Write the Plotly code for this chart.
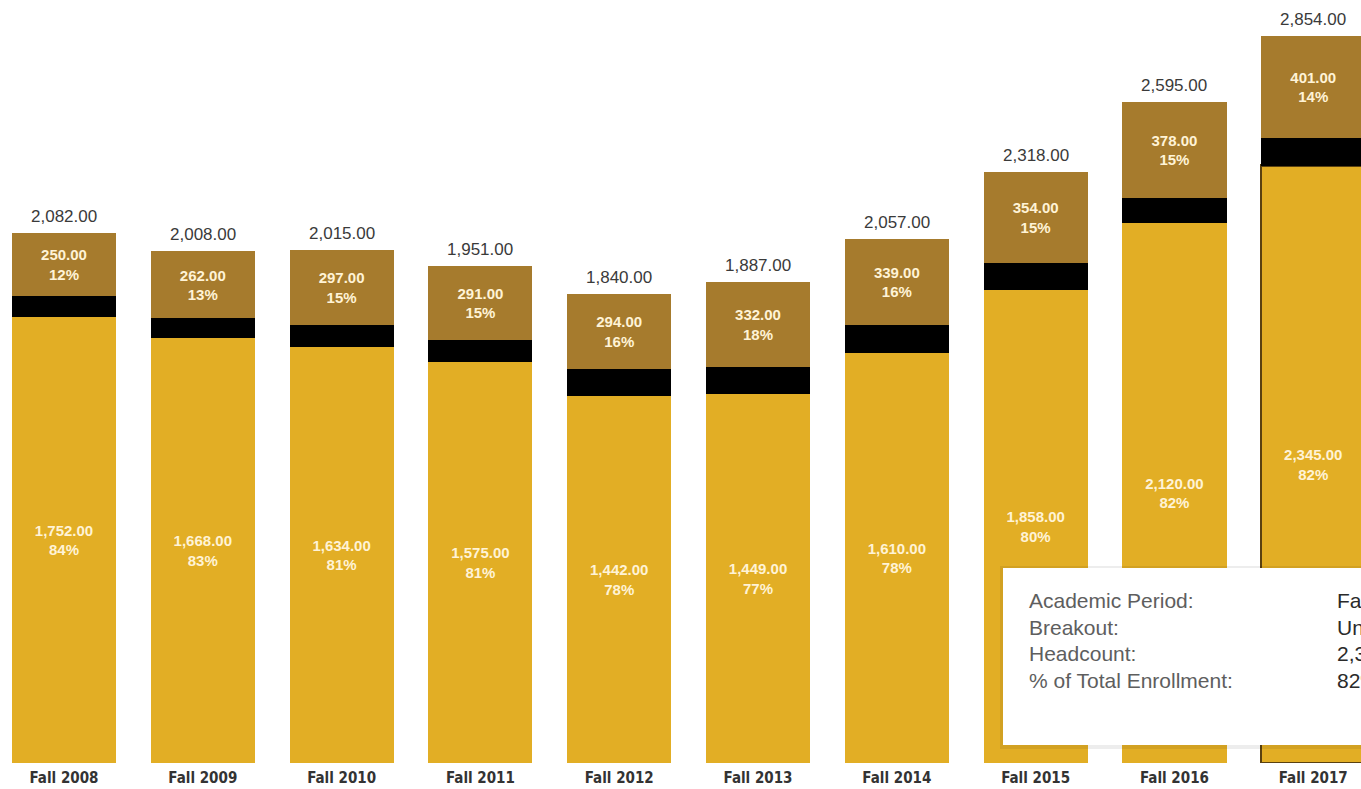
import plotly.graph_objects as go

# Fall headcount by breakout
terms = ["Fall 2008", "Fall 2009", "Fall 2010", "Fall 2011", "Fall 2012",
         "Fall 2013", "Fall 2014", "Fall 2015", "Fall 2016", "Fall 2017"]
totals = [2082, 2008, 2015, 1951, 1840, 1887, 2057, 2318, 2595, 2854]
undergrad = [1752, 1668, 1634, 1575, 1442, 1449, 1610, 1858, 2120, 2345]
graduate = [250, 262, 297, 291, 294, 332, 339, 354, 378, 401]
other = [t - u - g for t, u, g in zip(totals, undergrad, graduate)]

tip_labels = ["Academic Period:", "Breakout:", "Headcount:", "% of Total Enrollment:"]
tip_values = ["Fall 2017", "Undergraduate", "2,345.00", "82%"]

GOLD = "#E2AE25"
BROWN = "#A67B2D"
BLACK = "#000000"
LABEL = "#FFF3D6"

W, H = 1361, 789
BASE_PX = 763          # pixel row of the bar baseline
YMAX = 2995.0
X0, X1 = -0.461, 9.344


def seg_text(vals):
    return [f"<b>{v:,.2f}<br>{v / t * 100:.0f}%</b>" for v, t in zip(vals, totals)]


idx = list(range(len(terms)))
sel_width = [0] * (len(terms) - 1) + [2.5]

fig = go.Figure()
fig.add_bar(x=idx, y=undergrad, name="Undergraduate",
            marker=dict(color=GOLD, line=dict(color="#5A4110", width=sel_width)),
            text=seg_text(undergrad), textposition="inside",
            insidetextanchor="middle", textangle=0,
            textfont=dict(family="Liberation Sans, Arial", size=15, color=LABEL))
fig.add_bar(x=idx, y=other, name="Other",
            marker=dict(color=BLACK, line=dict(width=0)))
fig.add_bar(x=idx, y=graduate, name="Graduate",
            marker=dict(color=BROWN, line=dict(width=0)),
            text=seg_text(graduate), textposition="inside",
            insidetextanchor="middle", textangle=0,
            textfont=dict(family="Liberation Sans, Arial", size=15, color=LABEL))

annotations = []
for i, t in zip(idx, totals):
    annotations.append(dict(x=i, y=t, xref="x", yref="y", text=f"{t:,.2f}",
                            showarrow=False, yanchor="bottom", yshift=5,
                            font=dict(family="Liberation Sans, Arial", size=17,
                                      color="#3A3A3A")))


def px_x(p):
    return p / W


def px_y(p):
    return (BASE_PX - p) / BASE_PX


# hover card for the selected segment
shapes = [
    dict(type="rect", xref="paper", yref="paper",
         x0=px_x(1000), x1=px_x(1400), y0=px_y(749), y1=px_y(566),
         fillcolor="rgba(0,0,0,0.07)", line=dict(width=0), layer="above"),
    dict(type="rect", xref="paper", yref="paper",
         x0=px_x(1003), x1=px_x(1400), y0=px_y(745), y1=px_y(568),
         fillcolor="#FFFFFF", line=dict(width=0), layer="above"),
]
row_px = [600, 627, 653, 680]
for lab, val, ry in zip(tip_labels, tip_values, row_px):
    annotations.append(dict(x=px_x(1027), y=px_y(ry), xref="paper", yref="paper",
                            text=lab, showarrow=False, xanchor="left", yanchor="middle",
                            font=dict(family="Liberation Sans, Arial", size=21,
                                      color="#5E5E5E")))
    annotations.append(dict(x=px_x(1335), y=px_y(ry), xref="paper", yref="paper",
                            text=val, showarrow=False, xanchor="left", yanchor="middle",
                            font=dict(family="Liberation Sans, Arial", size=21,
                                      color="#2A2A2A")))

fig.update_layout(
    width=W, height=H,
    barmode="stack", bargap=0.25,
    showlegend=False,
    plot_bgcolor="#FFFFFF", paper_bgcolor="#FFFFFF",
    margin=dict(l=0, r=0, t=0, b=H - BASE_PX, autoexpand=False),
    annotations=annotations,
    shapes=shapes,
    uniformtext=dict(mode=False),
    xaxis=dict(range=[X0, X1], tickmode="array", tickvals=idx, ticktext=terms,
               showgrid=False, zeroline=False, showline=False, ticks="",
               automargin=False, ticklabelstandoff=4,
               tickfont=dict(family="DejaVu Sans Condensed, Liberation Sans Narrow, sans-serif",
                             size=15, color="#333333", weight="bold")),
    yaxis=dict(range=[0, YMAX], visible=False, showgrid=False, zeroline=False),
)

fig.write_html("out.html")
